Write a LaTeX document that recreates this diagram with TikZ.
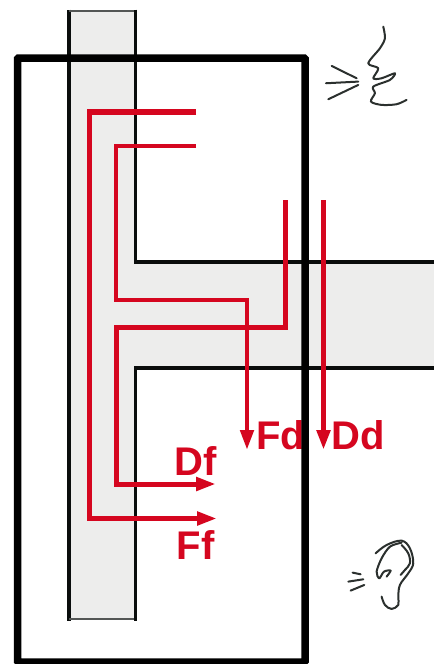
\documentclass[tikz,border=0pt]{standalone}
\usepackage{fontspec}
\setmainfont{Liberation Sans}
\usetikzlibrary{arrows.meta}
\definecolor{wallInk}{HTML}{0A0D0C}
\definecolor{wallGray}{HTML}{EDEDEC}
\definecolor{pathRed}{HTML}{D5061F}
\definecolor{sketchInk}{HTML}{2B302E}
\tikzset{
  wall fill/.style={fill=wallGray, draw=none},
  wall line/.style={draw=wallInk, line width=3.8pt, line cap=butt},
  wall thin/.style={draw=wallInk!70, line width=1.8pt},
  outer wall/.style={draw=black, line width=7.5pt, rounded corners=1pt},
  path main/.style={draw=pathRed, line width=5.6pt, line cap=butt},
  path mid/.style={draw=pathRed, line width=5pt, line cap=butt},
  path side/.style={draw=pathRed, line width=4.6pt, line cap=butt},
  path arrow/.style={-{Triangle[length=20pt,width=13pt]}},
  path label/.style={text=pathRed, font=\fontsize{40}{40}\selectfont\bfseries, inner sep=0pt},
  sketch/.style={draw=sketchInk, line width=2pt, line cap=round, line join=round}
}

\begin{document}
\begin{tikzpicture}[x=1pt,y=-1pt]
  \useasboundingbox (0,0) rectangle (434,664);
  \fill[white] (0,0) rectangle (434,664);
  % walls
  \fill[wall fill] (69,11) rectangle (135.5,619);
  \fill[wall fill] (135,262) rectangle (434,368);
  \draw[wall line] (69,9.5) -- (69,620.5);
  \draw[wall thin] (69,11) -- (135.5,11);
  \draw[wall thin] (69,619) -- (135.5,619);
  \draw[wall line] (135.5,9.5) -- (135.5,262) -- (434,262);
  \draw[wall line] (135.5,620.5) -- (135.5,368) -- (434,368);
  % transmission paths
  \draw[path main, path arrow] (196,112) -- (89.5,112) -- (89.5,518.5) -- (217,518.5);
  \draw[path side] (196,146) -- (116,146) -- (116,300) -- (247,300);
  \draw[path side, path arrow] (247,298) -- (247,450);
  \draw[path mid, path arrow] (285.5,200) -- (285.5,327) -- (116,327) -- (116,484) -- (216,484);
  \draw[path main, path arrow] (323.5,200) -- (323.5,450);
  \node[path label, anchor=base west] (fd) at (256,449) {Fd};
  \node[path label, anchor=base west] (dd) at (331,449) {Dd};
  \node[path label, anchor=base west] (df) at (174,475) {Df};
  \node[path label, anchor=base west] (ff) at (176.5,559) {Ff};
  \draw[outer wall] (17.5,58) rectangle (305,662);
  % talking mouth
  \begin{scope}[shift={(310,10)},x=0.333pt,y=-0.333pt]
    \draw[sketch] plot[smooth,tension=0.5] coordinates {(220,50) (225,85) (210,115) (175,160) (205,175) (190,205) (215,205) (255,190) (240,210) (190,230) (195,250) (183,275) (215,285) (260,283) (290,270)};
    \draw[sketch] (65,168) -- (140,205);
    \draw[sketch] (48,220) -- (145,215);
    \draw[sketch] (55,268) -- (145,225);
  \end{scope}
  % listening ear
  \begin{scope}[shift={(330,530)},x=0.333pt,y=-0.333pt]
    \draw[sketch] plot[smooth,tension=0.6] coordinates {(137,70) (170,45) (215,32) (240,55) (250,100) (235,130) (210,165) (205,200) (205,225) (185,237) (165,225) (155,200)};
    \draw[sketch] plot[smooth,tension=0.5] coordinates {(215,38) (180,50) (155,85) (140,125) (148,145) (162,125) (182,122) (170,140)};
    \draw[sketch] plot[smooth,tension=0.6] coordinates {(215,45) (235,70) (240,100) (225,120) (212,135)};
    \draw[sketch] (68,128) -- (92,133);
    \draw[sketch] (55,155) -- (100,148);
    \draw[sketch] (62,182) -- (103,165);
  \end{scope}
\end{tikzpicture}
\end{document}
